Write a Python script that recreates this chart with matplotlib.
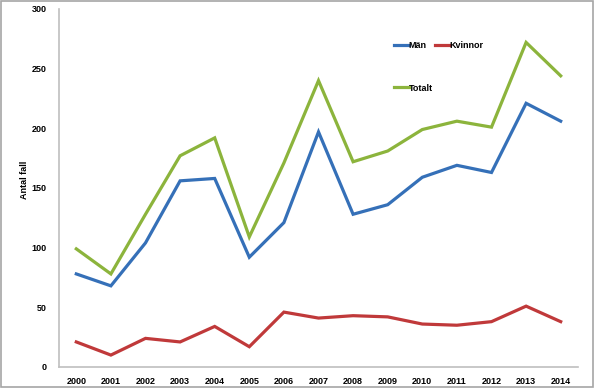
import matplotlib
matplotlib.use('Agg')
import matplotlib.pyplot as plt
from matplotlib.lines import Line2D

years = ['2000', '2001', '2002', '2003', '2004', '2005', '2006', '2007',
         '2008', '2009', '2010', '2011', '2012', '2013', '2014']
man = [78, 68, 104, 156, 158, 92, 121, 197, 128, 136, 159, 169, 163, 221, 206]
kvinnor = [21, 10, 24, 21, 34, 17, 46, 41, 43, 42, 36, 35, 38, 51, 38]
totalt = [99, 78, 128, 177, 192, 109, 171, 240, 172, 181, 199, 206, 201, 272, 244]

c_man = '#3570B8'
c_kv = '#C0393A'
c_tot = '#8CB43C'

plt.rcParams['font.family'] = ['Liberation Sans', 'DejaVu Sans']

fig = plt.figure(figsize=(5.94, 3.88), dpi=100)
ax = fig.add_axes([59 / 594, 21 / 388, 519 / 594, 358 / 388])

x = list(range(len(years)))
ax.plot(x, man, c=c_man, linewidth=2.3, solid_joinstyle='miter')
ax.plot(x, kvinnor, c=c_kv, linewidth=2.3, solid_joinstyle='miter')
ax.plot(x, totalt, c=c_tot, linewidth=2.3, solid_joinstyle='miter')

ax.set_xlim(-0.5, len(years) - 0.5)
ax.set_ylim(0, 300)
ax.set_yticks(range(0, 301, 50))
ax.set_xticks(x)
ax.set_xticklabels(years)
ax.tick_params(axis='both', length=0, labelsize=6.5, pad=7)
for lab in ax.get_xticklabels() + ax.get_yticklabels():
    lab.set_fontweight('bold')
ax.tick_params(axis='y', pad=9)

for s in ['top', 'right']:
    ax.spines[s].set_visible(False)
for s in ['left', 'bottom']:
    ax.spines[s].set_color('#BFBFBF')
    ax.spines[s].set_linewidth(1.2)

fig.text(24 / 594, 1 - 180 / 388, 'Antal fall', rotation=90, fontsize=6.5,
         fontweight='bold', ha='center', va='center')

# legend: Män, Kvinnor on first row, Totalt below (column-major fill)
h_man = Line2D([], [], c=c_man, lw=2.3)
h_kv = Line2D([], [], c=c_kv, lw=2.3)
h_tot = Line2D([], [], c=c_tot, lw=2.3)
fig.legend([h_man, h_tot, h_kv], ['Män', 'Totalt', 'Kvinnor'], ncol=2,
           loc='upper left', bbox_to_anchor=(386 / 594, 1 - 33 / 388),
           frameon=False, handlelength=1.6, handletextpad=0.0,
           columnspacing=0.3, labelspacing=3.7,
           prop={'size': 6.5, 'weight': 'bold'})

# outer frame
fig.patches.append(plt.Rectangle((0.001, 0.002), 0.997, 0.995, transform=fig.transFigure,
                                 fill=False, edgecolor='#A6A6A6', linewidth=1.2))

fig.savefig('out.png', dpi=100)
